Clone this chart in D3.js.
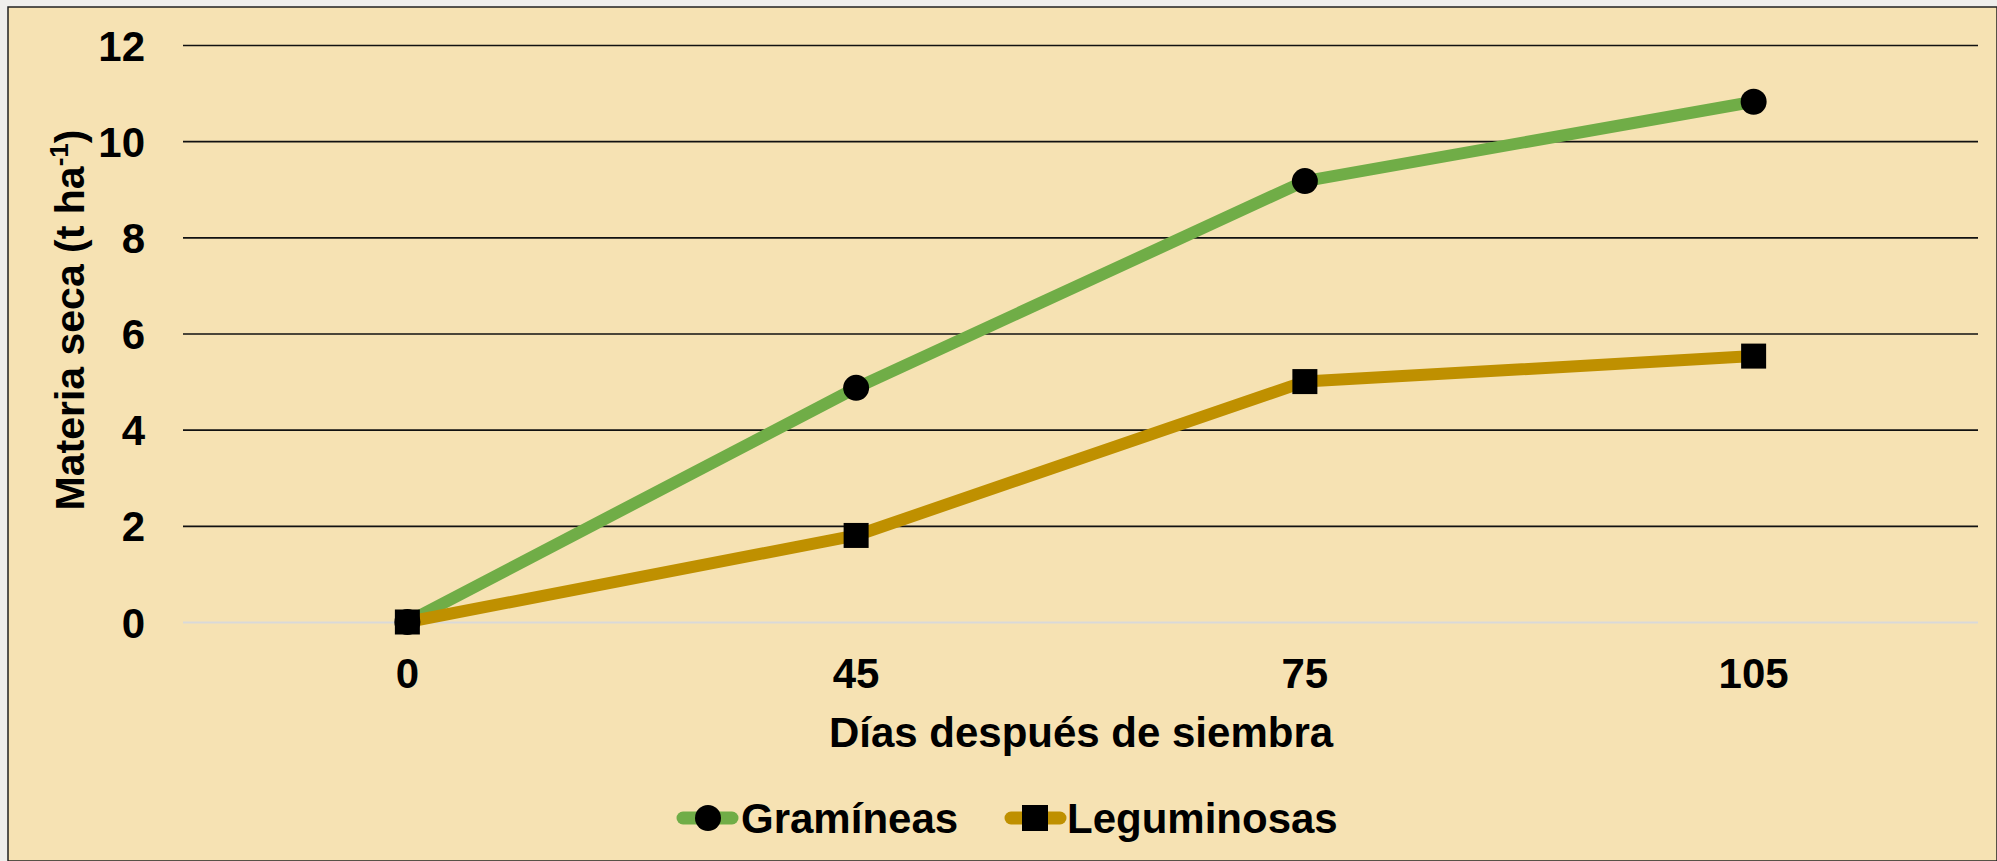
<!DOCTYPE html>
<html><head><meta charset="utf-8">
<script src="https://cdn.jsdelivr.net/npm/d3@7"></script>
<style>
html,body{margin:0;padding:0;background:#efeeec;}
svg{display:block;}
text{font-family:"Liberation Sans",Arial,sans-serif;font-weight:bold;fill:#000;}
</style></head><body>
<svg id="c" width="1997" height="861"></svg>
<script>
const categories = ["0", "45", "75", "105"];
const gramineas = [0, 4.87, 9.17, 10.82];
const leguminosas = [0, 1.8, 5.0, 5.53];
const yTicks = [0, 2, 4, 6, 8, 10, 12];
const seriesNames = ["Gramíneas", "Leguminosas"];
const seriesColors = ["#70AD47", "#BF9000"];

(function () {
const svg = d3.select("#c");
const W = 1997, H = 861;
svg.append("rect").attr("x", 8).attr("y", 7).attr("width", W - 8).attr("height", H - 7)
  .attr("fill", "#F6E2B3").attr("stroke", "#222").attr("stroke-width", 1.5);

const mLeft = 183, mRight = 1978, mTop = 45, mBottom = 622;
const x = d3.scaleBand().domain(categories).range([mLeft, mRight]);
const y = d3.scaleLinear().domain([0, 12]).range([mBottom, mTop]);

const yAxis = d3.axisLeft(y).tickValues(yTicks).tickSize(-(mRight - mLeft)).tickPadding(38).tickFormat(d3.format("d"));
const gy = svg.append("g").attr("transform", `translate(${mLeft},0)`).call(yAxis);
gy.select(".domain").remove();
gy.selectAll(".tick line").attr("stroke", d => d === 0 ? "#d9d9d9" : "#111").attr("stroke-width", d => d === 0 ? 2 : 1.6);
gy.selectAll(".tick text").attr("font-size", 42).attr("dy", "0.36em");

const xAxis = d3.axisBottom(x).tickSize(0).tickPadding(36);
const gx = svg.append("g").attr("transform", `translate(0,${mBottom})`).call(xAxis);
gx.select(".domain").remove();
gx.selectAll(".tick text").attr("font-size", 42).attr("dy", "0.71em");

const cx = d => x(d) + x.bandwidth() / 2;
const line = d3.line().x((d, i) => cx(categories[i])).y(d => y(d));

[gramineas, leguminosas].forEach((s, k) => {
  svg.append("path").datum(s).attr("d", line).attr("fill", "none")
    .attr("stroke", seriesColors[k]).attr("stroke-width", 12).attr("stroke-linejoin", "round");
});
svg.append("g").selectAll("circle").data(gramineas).join("circle")
  .attr("cx", (d, i) => cx(categories[i])).attr("cy", d => y(d)).attr("r", 13).attr("fill", "#000");
svg.append("g").selectAll("rect").data(leguminosas).join("rect")
  .attr("x", (d, i) => cx(categories[i]) - 12.5).attr("y", d => y(d) - 12.5)
  .attr("width", 25).attr("height", 25).attr("fill", "#000");

svg.append("text").attr("x", 1081).attr("y", 747).attr("text-anchor", "middle")
  .attr("font-size", 42).text("Días después de siembra");
const yt = svg.append("text").attr("transform", "translate(84,320) rotate(-90)").attr("text-anchor", "middle").attr("font-size", 41);
yt.append("tspan").text("Materia seca (t ha");
yt.append("tspan").attr("font-size", 26).attr("dy", -16).text("-1");
yt.append("tspan").attr("dy", 16).text(")");

const legY = 818;
const lg = svg.append("g");
const legItems = [{x0: 678, tx: 741}, {x0: 1006, tx: 1067}];
seriesNames.forEach((n, k) => {
  const it = legItems[k];
  lg.append("line").attr("x1", it.x0 + 5).attr("x2", it.x0 + 54).attr("y1", legY).attr("y2", legY)
    .attr("stroke", seriesColors[k]).attr("stroke-width", 13).attr("stroke-linecap", "round");
  if (k === 0) lg.append("circle").attr("cx", it.x0 + 30).attr("cy", legY).attr("r", 13).attr("fill", "#000");
  else lg.append("rect").attr("x", it.x0 + 16).attr("y", legY - 13).attr("width", 26).attr("height", 26).attr("fill", "#000");
  lg.append("text").attr("x", it.tx).attr("y", legY + 15).attr("font-size", 42).text(n);
});
})();
</script></body></html>
